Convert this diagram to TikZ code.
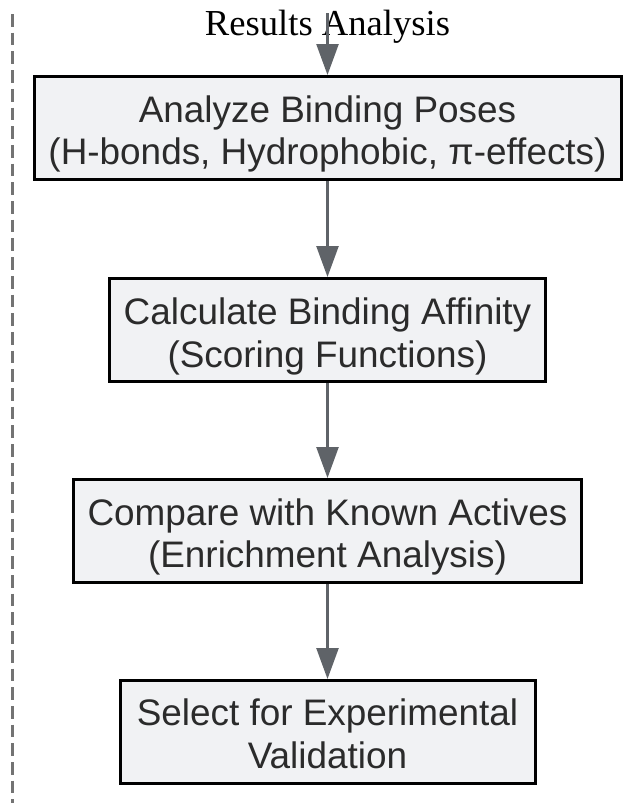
\documentclass[tikz,border=0pt]{standalone}
\usepackage{fontspec}
\setmainfont{Liberation Sans}
\newfontfamily\titlefont{Liberation Serif}
\usetikzlibrary{arrows.meta}
\definecolor{boxfill}{HTML}{F1F2F4}
\definecolor{arrowcol}{HTML}{5F6368}
\definecolor{textcol}{HTML}{2B2B2B}
\definecolor{dashcol}{HTML}{737373}
\tikzset{
  stepbox/.style={draw=black, line width=3pt, fill=boxfill, inner sep=0pt, minimum height=103pt},
  boxtext/.style={align=center, anchor=base, inner sep=0pt, text=textcol, font=\fontsize{36.9}{42.5}\selectfont},
  flow/.style={draw=arrowcol, line width=2.5pt, -{Triangle[length=31pt,width=22pt]}},
  frameline/.style={draw=dashcol, line width=3pt, dash pattern=on 12.7pt off 6pt}
}
\begin{document}
\begin{tikzpicture}[x=1pt,y=-1pt]
\useasboundingbox (0,0) rectangle (641,803);
\coordinate (ftop) at (12.7,14);
\coordinate (fbot) at (12.7,803);
\draw[frameline] (ftop) -- (fbot);

\node[stepbox, minimum width=587pt] (b1) at (327.5,128) {};
\node[stepbox, minimum width=436pt] (b2) at (327.5,330) {};
\node[stepbox, minimum width=508pt] (b3) at (327.5,531) {};
\node[stepbox, minimum width=415pt] (b4) at (327.5,732) {};

\node[boxtext] (t1) at (327.5,164.5) {Analyze Binding Poses\\(H-bonds, Hydrophobic, π-effects)};
\node[boxtext] (t2) at (327.5,367) {Calculate Binding Affinity\\(Scoring Functions)};
\node[boxtext] (t3) at (327.5,567.5) {Compare with Known Actives\\(Enrichment Analysis)};
\node[boxtext] (t4) at (327.5,768) {Select for Experimental\\Validation};

\node[anchor=base, inner sep=0pt, font=\titlefont\fontsize{36.6}{40}\selectfont] (title) at (327.5,35) {Results Analysis};
\coordinate (start) at (327.5,13);

\draw[flow] (start) -- (b1.north);
\draw[flow] (b1.south) -- (b2.north);
\draw[flow] (b2.south) -- (b3.north);
\draw[flow] (b3.south) -- (b4.north);
\end{tikzpicture}
\end{document}
